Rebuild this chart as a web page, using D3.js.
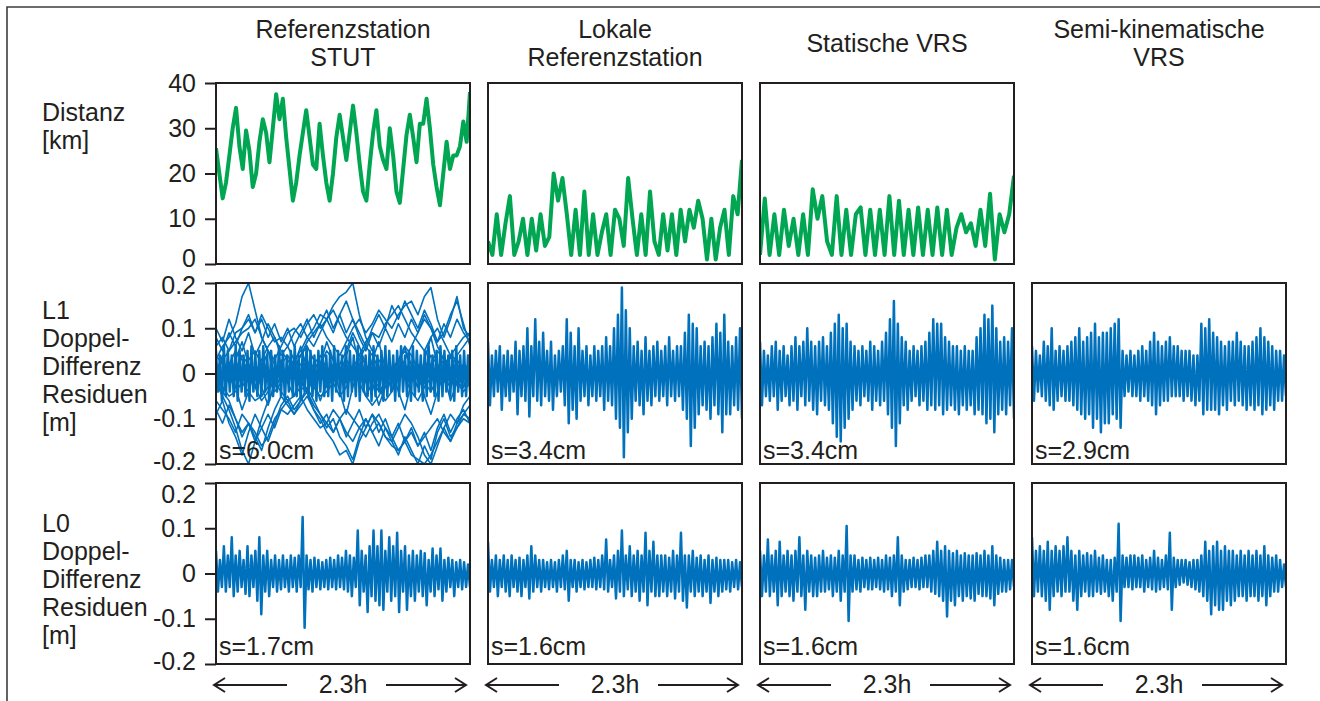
<!DOCTYPE html>
<html>
<head>
<meta charset="utf-8">
<script src="https://cdn.jsdelivr.net/npm/d3@7"></script>
<style>
body { margin: 0; background: #fff; }
text { font-family: "Liberation Sans", Arial, sans-serif; fill: #231f20; }
</style>
</head>
<body>
<svg width="1320" height="701"></svg>
<script>
// column headings, row headings, tick labels
var columnTitles = [["Referenzstation", "STUT"], ["Lokale", "Referenzstation"], ["Statische VRS"], ["Semi-kinematische", "VRS"]];
var rowTitles = [["Distanz", "[km]"], ["L1", "Doppel-", "Differenz", "Residuen", "[m]"], ["L0", "Doppel-", "Differenz", "Residuen", "[m]"]];
var distTicks = [0, 10, 20, 30, 40];
var distTickLabels = ["0", "10", "20", "30", "40"];
var resTicks = [-0.2, -0.1, 0, 0.1, 0.2];
var resTickLabels = ["-0.2", "-0.1", "0", "0.1", "0.2"];
var l1Sigma = ["s=6.0cm", "s=3.4cm", "s=3.4cm", "s=2.9cm"];
var l0Sigma = ["s=1.7cm", "s=1.6cm", "s=1.6cm", "s=1.6cm"];
var spanLabel = "2.3h";
var spanHours = 2.3;

// distance to reference station [km]
var distStut = [25.6, 20, 14.5, 18, 24, 30, 34.5, 26, 21, 29.5, 25, 17, 20, 27, 32, 29, 22.5, 30, 37.5, 32, 36.5, 28, 21, 14, 18, 24, 29, 34, 28, 22, 21, 31, 24, 18, 14, 20, 28, 33, 28, 23, 29, 35, 29, 22, 16, 14, 22, 29, 34, 26, 23, 21, 30, 24, 16, 13.5, 21, 28.5, 33, 28, 22.5, 31, 31, 36.5, 30, 22, 17, 13, 20, 27, 21, 24, 24, 26, 31.5, 27, 38];
var distLokal = [5, 2, 11, 2, 9, 15, 2, 5, 10, 2, 10, 3, 11, 4, 6, 20, 14, 19, 11, 2, 12, 2, 16, 2, 11, 2, 7, 11, 2, 12, 10, 4, 19, 10, 2, 11, 2, 16, 5, 2, 11, 3, 11, 2, 12, 5, 12, 8, 14, 10, 1, 10, 1, 8, 12, 2, 15, 11, 23];
var distStatisch = [2, 14.5, 2, 11, 2, 12, 4, 10, 2, 11, 2, 16.5, 10, 15, 5, 2, 15, 2, 12, 2, 11, 12.5, 2, 12, 2, 12, 2, 15, 2, 14, 2, 12, 2, 12.5, 2, 12, 2, 12.5, 2, 12, 2, 8, 11, 7, 9, 4, 12, 4, 15.5, 1, 11, 7, 11, 19.5];

// L1 double difference residuals [cm]
var l1Stut = [5,-4,4,-6,6,-5,5,-4,4,-5,6,-6,5,-4,4,-5,5,-6,6,-4,4,-5,5,-5,6,-4,4,-6,5,-5,4,-4,6,-5,5,-6,4,-4,5,-5,6,-5,4,-6,5,-4,6,-5,5,-5,4,-6,5,-4,6,-5,4,-5,5,-6,6,-4,5,-5,4,-6,6,-5,5,-4,4,-5,6,-6,5,-4,4,-5,5,-6,6,-5,4,-4,5,-6,6,-5,5,-4,4,-6,5,-5,6,-4,4,-5,5,-6,6,-5,5,-4,4,-6,5,-5,6,-4,4,-5,5,-6,6,-5,5,-4,4,-5,5,-6,6,-4,4,-5,5,-5,4,-4];
var l1StutA = [3,6,8,11,17,20,14,8,5,2,0,-2,1,4,6,3,0,-3,-1,2,5,9,6,2,-1,-4,-2,1,3,6,4,1,-2,-4,-1,2,4,3,1,2];
var l1StutB = [-2,-5,-8,-12,-17,-20,-15,-10,-6,-3,-1,1,3,2,-1,-3,-5,-4,-2,1,3,1,-2,-5,-7,-5,-2,0,2,-1,-4,-6,-3,-1,1,3,1,-2,-3,-1];
var l1StutC = [1,3,5,7,9,10,12,8,5,3,6,9,10,8,11,13,10,12,15,17,18,20,13,8,5,3,1,-2,0,3,6,9,12,10,6,3,1,4,6,8];
var l1StutD = [-3,-4,-6,-10,-13,-11,-14,-17,-12,-8,-5,-7,-9,-6,-4,-8,-10,-13,-15,-18,-17,-20,-15,-12,-9,-11,-14,-15,-12,-9,-11,-14,-18,-20,-16,-12,-9,-11,-7,-5];
var l1StutE = [2,0,-2,1,4,2,0,3,6,8,5,3,1,4,7,9,11,8,6,4,7,10,12,9,11,14,12,10,13,15,16,13,17,19,12,8,12,17,10,8];
var l1StutF = [-1,-3,-5,-4,-2,-4,-6,-5,-3,-2,-4,-6,-5,-3,-4,-7,-9,-11,-8,-10,-13,-15,-12,-10,-13,-11,-14,-16,-17,-15,-18,-19,-20,-18,-15,-12,-15,-11,-9,-10];
var l1StutG = [6,8,5,9,10,12,9,13,10,7,8,6,9,11,8,10,13,12,14,11,8,6,4,7,9,8,11,13,15,12,9,7,5,8,10,7,4,6,8,9];
var l1StutH = [-6,-8,-10,-13,-9,-11,-13,-16,-14,-10,-8,-9,-7,-5,-8,-10,-12,-11,-13,-10,-8,-10,-12,-14,-11,-9,-12,-14,-17,-15,-13,-16,-14,-12,-10,-13,-15,-12,-10,-11];
var l1StutI = [4,2,-1,-3,0,3,5,2,-1,-4,-2,1,-1,-3,0,2,4,1,-2,-5,-3,0,3,6,4,1,-2,0,3,5,2,-1,1,4,2,-1,-3,0,2,1];
var l1StutJ = [-4,-1,2,5,3,0,-3,-6,-4,-1,2,4,1,-2,-4,-1,2,5,3,0,-2,1,4,2,-1,-3,-6,-4,-1,2,0,-3,-1,2,5,3,0,-2,-4,-2];
var l1StutK = [8,5,9,6,10,13,9,12,8,11,7,10,6,9,12,8,11,14,10,13,9,12,8,5,9,6,10,7,11,8,12,9,13,10,7,11,8,12,9,7];
var l1StutL = [-8,-11,-7,-10,-14,-11,-15,-12,-9,-12,-8,-6,-9,-7,-5,-8,-11,-9,-13,-10,-14,-11,-8,-12,-9,-13,-10,-14,-11,-15,-12,-16,-13,-17,-12,-9,-13,-10,-8,-11];
var l1StutM = [0,4,-2,3,7,2,-3,1,5,-1,3,-2,2,6,1,-3,2,7,3,-1,4,8,2,-2,3,7,1,-4,2,6,0,-3,3,8,2,-2,4,0,-3,1];
var l1StutN = [-1,-5,2,-3,-8,-4,1,-3,-7,-2,2,-2,-5,0,3,-1,-6,-2,2,-4,-9,-3,1,-5,-2,-7,-3,1,-4,-8,-2,2,-5,-9,-4,0,-6,-2,1,-3];
var l1StutO = [10,7,12,8,5,9,4,7,11,8,4,6,3,5,8,6,9,12,9,13,16,12,9,6,10,13,10,15,12,16,13,10,14,11,7,9,13,16,11,6];
var l1StutP = [-9,-6,-11,-14,-18,-13,-9,-12,-15,-11,-7,-5,-8,-6,-3,-6,-9,-12,-10,-14,-16,-19,-14,-10,-13,-16,-12,-15,-18,-14,-17,-20,-16,-19,-13,-10,-14,-12,-9,-7];
var l1Lokal = [7,-7,4,-5,5,-4,6,-8,4,-5,5,-6,4,-4,7,-9,5,-5,6,-6,10,-9.5,6,-5,12,-6,7,-7,9,-5,5,-6,7,-8,4,-5,5,-4,6,-7,12,-11,9,-8,6,-10,10,-6,5,-5,6,-7,4,-5,6,-6,5,-5,6,-8,8,-6,6,-7,10,-10,13,-12,19,-18.5,14,-13,10,-10,6,-6,7,-7,5,-9,8,-6,5,-7,6,-5,7,-6,5,-5,6,-7,8,-5,5,-6,6,-5,6,-8,9,-10,13,-16,11,-12,10,-9,6,-7,7,-8,6,-10,8,-7,11,-9,9,-13,13,-9,7,-9,6,-7,8,-8,10,-10];
var l1Statisch = [7,-7,5,-5,4,-6,6,-5,7,-8,5,-6,6,-5,4,-7,6,-6,8,-8,6,-5,7,-7,10,-6,7,-8,6,-9,7,-6,8,-7,6,-8,9,-11,11,-14,13,-15,10,-12,11,-10,7,-8,6,-6,5,-7,6,-5,5,-6,7,-8,6,-6,5,-7,7,-6,9,-9,12,-12,16,-16,11,-11,8,-7,7,-8,5,-6,6,-5,5,-7,6,-6,7,-8,9,-7,12,-8,11,-7,11,-9,8,-8,7,-7,6,-8,6,-9,5,-7,6,-8,5,-7,5,-9,8,-8,10,-9,13,-11,12,-10,15,-13,10,-9,7,-8,8,-9,7,-7,10,-10];
var l1Semi = [6,-6,5,-4,4,-5,7,-6,6,-7,10,-8,5,-6,6,-5,5,-6,6,-6,7,-7,8,-8,10,-9,7,-10,8,-9,9,-12,11,-10,8,-13,9,-11,9,-11,10,-9,11,-10,12,-12,5,-5,4,-4,5,-5,4,-5,5,-6,6,-5,5,-6,7,-7,9,-9,7,-7,6,-6,7,-6,8,-5,6,-5,6,-5,5,-6,5,-5,5,-6,4,-7,4,-6,11,-9,10,-8,12,-8,9,-8,8,-9,7,-7,6,-8,7,-6,7,-7,9,-6,7,-7,6,-8,6,-7,7,-8,8,-7,10,-9,8,-8,7,-7,6,-8,5,-6,5,-6,4,-5];

// L0 double difference residuals [cm]
var l0Stut = [5,-4,3,-3,6,-4,4,-3,8,-5,4,-4,5,-3,3,-4.5,6,-5,4,-3,5,-6,8,-9,4,-4,5,-5,3,-3,4,-4,3,-3.5,4,-3,3,-4,4,-3,3.5,-4,4,-3,12.5,-12,4,-3.5,3,-4,3.5,-3,3,-3.5,2.5,-3,3,-3.5,3.5,-3,3,-3.5,4,-3,3.5,-3.5,5,-4,4,-5,3.5,-3,9.5,-7,5,-4,4,-8.5,6,-5,9.5,-6,6,-7,9.5,-8,5,-4,8,-6,6,-5,9,-8.5,5,-4,6,-8,4,-5,5,-6,4,-4,5,-5,4.5,-7,3,-4,5.5,-5,4,-3.5,5.5,-6,3,-4,3.5,-3,3,-5,2.5,-3,3,-3.5,2.5,-3,2,-3];
var l0Lokal = [7,-4,3,-3,4,-5,3,-3,4,-4,3,-5,4,-3,3,-4,3.5,-5,3,-3,4,-5.5,6,-4,4,-3,3,-4,3,-3,2.5,-3.5,3,-3,2.5,-4,3,-3,4,-3.5,5,-6,3,-3,3,-4,2.5,-3,3,-3.5,2.5,-3,3,-3,3.5,-3.5,3,-3,4,-3.5,7.5,-4,3,-3,4,-5.5,5,-4,9.5,-5,4,-3.5,6,-5,4,-4,5,-6,4,-4,9,-7,5,-4,7,-5,4,-5,4,-4,4,-5,3.5,-4,5,-5.5,4,-4,9,-6,4,-7.5,4,-4,5,-5,3.5,-4,4,-5,3,-4,4,-6.5,3,-4,3.5,-5,3,-4,3,-3.5,3,-4,2.5,-3,3,-3.5,2.5,-3];
var l0Statisch = [5,-5,4,-4,7.5,-5,4,-4,5,-7,7,-5,4,-4,5,-5,4,-6,5,-4,8,-5,4,-8,5,-4,4,-5,3.5,-5,4,-4,5,-4,3.5,-3.5,4,-5,3.5,-4,5,-6,4,-4,10.5,-10.5,4,-4,4,-3.5,3,-4,3.5,-3,3,-3.5,3.5,-3.5,3,-3,3.5,-3.5,3,-4,4,-3.5,3.5,-5,4,-4,8,-7,4,-4,3,-3.5,3,-3,3.5,-3,3,-3.5,3.5,-3,4,-3,4,-4,5,-4.5,7,-5,5,-6,6,-9.5,5,-6,4.5,-7,5,-5,4,-6,4.5,-5,4,-5.5,4,-6,4.5,-4.5,4,-5,5,-5,4,-5.5,6,-7,4,-4.5,3.5,-4,3,-4,3,-3.5,3,-3];
var l0Semi = [8,-5,5,-4,6,-5,5,-6,7,-8,5,-5,6,-4,5,-5,6,-4,8,-4,5,-6,4,-8,5,-5,4,-4,4.5,-5,4,-5,5,-4,3.5,-4.5,4,-4,3,-5,3,-6,3.5,-4,11,-10.5,4,-3,3.5,-3,4,-3.5,4,-3,3.5,-3,4,-4,3,-3,3.5,-3.5,5,-4,3.5,-3.5,3,-3,4,-3.5,9,-8,3.5,-3,3,-2.5,3,-2,3,-2.5,2.5,-3,3,-3.5,3,-4,4,-5,7,-6,5,-9,6,-7,7,-8,5,-8,6,-6,5,-7,5,-6,4,-5,5,-5,4,-6,5,-5,4,-5,5,-6,4,-5,6,-7,4,-5,3.5,-4,4,-4,3,-3,2,-3];

var ink = "#231f20", blue = "#0071bc", green = "#00a651";
var svg = d3.select("svg");
var colX = [216, 488, 760, 1032];
var pw = 254;
var rowY = [83, 283, 483];
var ph = 181;
var fs = "25px";

// outer frame (top and left edge)
svg.append("path").attr("d", "M7,701V7H1320").attr("fill", "none").attr("stroke", "#3c3c3c").attr("stroke-width", 1.6);

// column titles
columnTitles.forEach(function(lines, c) {
    var cx = colX[c] + pw / 2;
    var t = svg.append("text").attr("text-anchor", "middle").attr("font-size", fs);
    lines.forEach(function(s, i) {
        var yb = lines.length == 1 ? 52 : 38 + i * 28;
        t.append("tspan").attr("x", cx).attr("y", yb).text(s);
    });
});

// row titles
var rowBase = [121, 319, 532];
rowTitles.forEach(function(lines, r) {
    var t = svg.append("text").attr("font-size", fs);
    lines.forEach(function(s, i) {
        t.append("tspan").attr("x", 42).attr("y", rowBase[r] + i * 28).text(s);
    });
});

var clipN = 0;
function panel(c, r, yDomain, seriesList, color) {
    var x0 = colX[c], y0 = rowY[r];
    var y = d3.scaleLinear().domain(yDomain).range([y0 + ph, y0]);
    var x = d3.scaleLinear().domain([0, spanHours]).range([x0, x0 + pw]);
    var id = "clip" + (clipN++);
    svg.append("clipPath").attr("id", id).append("rect")
        .attr("x", x0).attr("y", y0).attr("width", pw).attr("height", ph);
    var g = svg.append("g").attr("clip-path", "url(#" + id + ")");
    seriesList.forEach(function(s) {
        var line = d3.line()
            .x(function(d, i) { return x(i / (s.values.length - 1) * spanHours); })
            .y(function(d) { return y(d * s.k); });
        g.append("path").datum(s.values)
            .attr("d", line)
            .attr("fill", "none")
            .attr("stroke", color)
            .attr("stroke-width", s.w)
            .attr("stroke-linejoin", "round");
    });
    svg.append("rect").attr("x", x0).attr("y", y0).attr("width", pw).attr("height", ph)
        .attr("fill", "none").attr("stroke", ink).attr("stroke-width", 2);
    return y;
}

// y axis on the first column; some labels nudged off the panel corners like in the print
function axis(y, ticks, labels, nudge) {
    var ax = svg.append("g").attr("transform", "translate(" + colX[0] + ",0)")
        .call(d3.axisLeft(y).tickValues(ticks).tickSize(11).tickPadding(9)
            .tickFormat(function(d, i) { return labels[i]; }));
    ax.select(".domain").remove();
    ax.selectAll("line").attr("stroke", ink).attr("stroke-width", 2);
    ax.selectAll("text").attr("font-size", fs).attr("font-family", "Liberation Sans, Arial, sans-serif").attr("fill", ink)
        .attr("transform", function(d, i) { return "translate(0," + (nudge[i] || 0) + ")"; });
}

// distance row
var dists = [distStut, distLokal, distStatisch];
dists.forEach(function(d, c) {
    var y = panel(c, 0, [0, 40], [{values: d, k: 1, w: 4}], green);
    if (c == 0) axis(y, distTicks, distTickLabels, [-6, 0, 0, 0, 0]);
});

// residual rows (cm -> m)
var l1Sets = [
    [l1StutA, l1StutB, l1StutC, l1StutD, l1StutE, l1StutF, l1StutG, l1StutH, l1StutI, l1StutJ, l1StutK, l1StutL, l1StutM, l1StutN, l1StutO, l1StutP, l1Stut],
    [l1Lokal], [l1Statisch], [l1Semi]
];
var l0Sets = [[l0Stut], [l0Lokal], [l0Statisch], [l0Semi]];

[l1Sets, l0Sets].forEach(function(sets, k) {
    var r = k + 1;
    sets.forEach(function(list, c) {
        var series = list.map(function(v) { return {values: v, k: 0.01, w: v.length > 60 ? 2.5 : 1.6}; });
        var y = panel(c, r, [-0.2, 0.2], series, blue);
        if (c == 0) axis(y, resTicks, resTickLabels, r == 1 ? [-3, 0, 0, 0, 2] : [-3, 0, 0, 0, 11]);
        svg.append("text").attr("x", colX[c] + 3).attr("y", r == 1 ? 459 : 655)
            .attr("font-size", fs).text(r == 1 ? l1Sigma[c] : l0Sigma[c]);
    });
});

// time span arrows under the bottom row
var ay = 685;
colX.forEach(function(x0) {
    var cx = x0 + pw / 2;
    svg.append("text").attr("x", cx).attr("y", 693).attr("text-anchor", "middle")
        .attr("font-size", fs).text(spanLabel);
    var a = svg.append("g").attr("fill", "none").attr("stroke", ink).attr("stroke-width", 2);
    a.append("path").attr("d", "M" + (x0 - 2) + "," + ay + "H" + (cx - 56));
    a.append("path").attr("d", "M" + (x0 + 9) + "," + (ay - 7) + "L" + (x0 - 2) + "," + ay + "L" + (x0 + 9) + "," + (ay + 7));
    a.append("path").attr("d", "M" + (cx + 43) + "," + ay + "H" + (x0 + pw - 4));
    a.append("path").attr("d", "M" + (x0 + pw - 15) + "," + (ay - 7) + "L" + (x0 + pw - 4) + "," + ay + "L" + (x0 + pw - 15) + "," + (ay + 7));
});
</script>
</body>
</html>
